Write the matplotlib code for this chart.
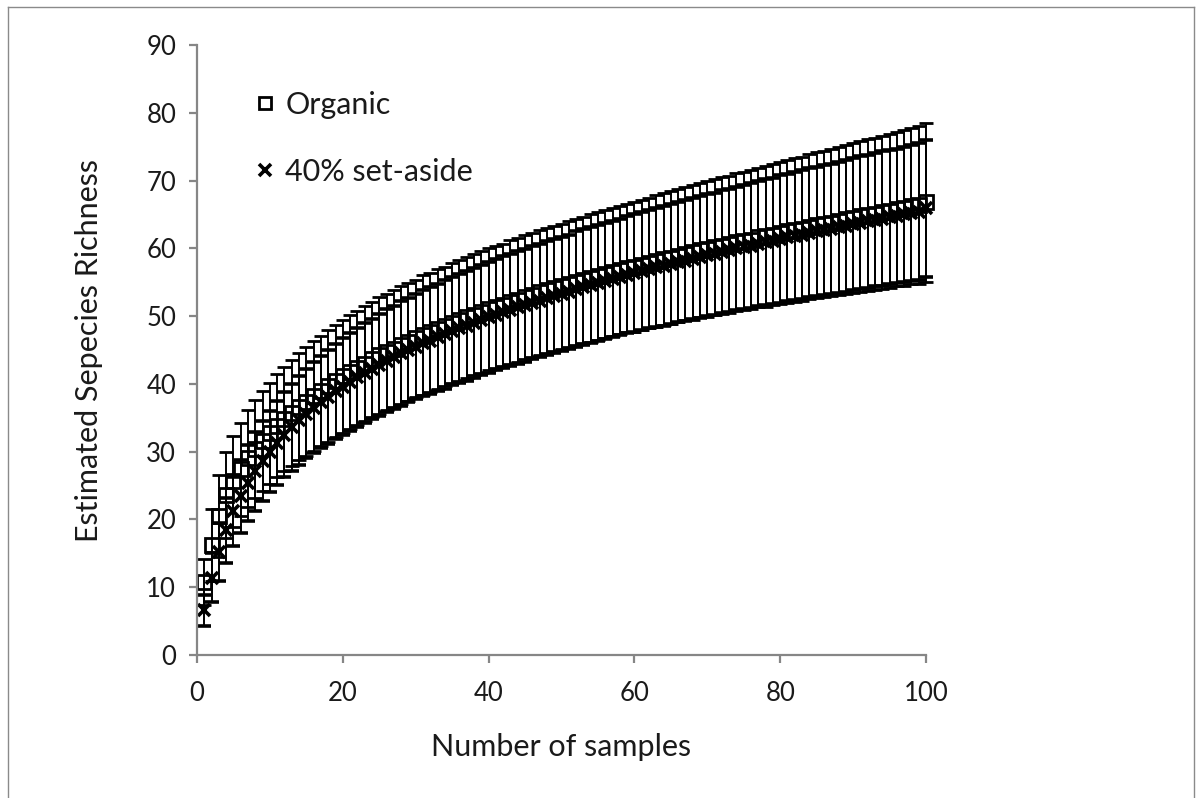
import matplotlib
matplotlib.use("Agg")
import matplotlib.pyplot as plt
from matplotlib.lines import Line2D
import numpy as np

samples = np.arange(1, 101)

organic = [
    10.8, 16.2, 20.5, 23.6, 25.6, 27.4, 29.0, 30.4, 31.6, 32.7,
    33.8, 34.8, 35.7, 36.6, 37.4, 38.2, 39.0, 39.7, 40.4, 41.1,
    41.8, 42.4, 43.0, 43.6, 44.2, 44.7, 45.2, 45.7, 46.2, 46.7,
    47.2, 47.6, 48.1, 48.5, 49.0, 49.4, 49.8, 50.2, 50.6, 51.0,
    51.4, 51.7, 52.1, 52.4, 52.8, 53.1, 53.5, 53.8, 54.1, 54.4,
    54.7, 55.0, 55.3, 55.6, 55.9, 56.2, 56.5, 56.8, 57.1, 57.3,
    57.6, 57.9, 58.1, 58.4, 58.6, 58.9, 59.2, 59.4, 59.7, 59.9,
    60.2, 60.4, 60.6, 60.9, 61.1, 61.3, 61.6, 61.8, 62.0, 62.3,
    62.5, 62.7, 62.9, 63.2, 63.4, 63.6, 63.8, 64.0, 64.3, 64.5,
    64.7, 64.9, 65.1, 65.3, 65.5, 65.8, 66.0, 66.2, 66.4, 66.8,
]
organic_err = [
    3.4, 5.3, 6.0, 6.4, 6.7, 6.9, 7.1, 7.2, 7.4, 7.5,
    7.6, 7.7, 7.8, 7.9, 8.0, 8.1, 8.1, 8.2, 8.3, 8.3,
    8.4, 8.4, 8.5, 8.5, 8.6, 8.6, 8.6, 8.7, 8.7, 8.7,
    8.8, 8.8, 8.8, 8.8, 8.9, 8.9, 8.9, 8.9, 9.0, 9.0,
    9.0, 9.0, 9.1, 9.1, 9.1, 9.1, 9.2, 9.2, 9.2, 9.2,
    9.3, 9.3, 9.3, 9.4, 9.4, 9.4, 9.5, 9.5, 9.5, 9.6,
    9.6, 9.6, 9.7, 9.7, 9.8, 9.8, 9.8, 9.9, 9.9, 10.0,
    10.0, 10.1, 10.1, 10.2, 10.2, 10.3, 10.3, 10.4, 10.4, 10.5,
    10.5, 10.6, 10.6, 10.7, 10.8, 10.8, 10.9, 10.9, 11.0, 11.1,
    11.1, 11.2, 11.2, 11.3, 11.4, 11.4, 11.5, 11.5, 11.6, 11.7,
]

setaside = [
    6.6, 11.4, 15.2, 18.4, 21.2, 23.4, 25.4, 27.1, 28.6, 30.0,
    31.3, 32.5, 33.6, 34.6, 35.6, 36.5, 37.3, 38.1, 38.9, 39.6,
    40.3, 41.0, 41.6, 42.2, 42.8, 43.4, 43.9, 44.5, 45.0, 45.5,
    46.0, 46.4, 46.9, 47.3, 47.8, 48.2, 48.6, 49.0, 49.4, 49.8,
    50.2, 50.6, 50.9, 51.3, 51.6, 52.0, 52.3, 52.7, 53.0, 53.3,
    53.6, 54.0, 54.3, 54.6, 54.9, 55.2, 55.5, 55.8, 56.1, 56.3,
    56.6, 56.9, 57.2, 57.4, 57.7, 58.0, 58.2, 58.5, 58.7, 59.0,
    59.2, 59.5, 59.7, 60.0, 60.2, 60.4, 60.7, 60.9, 61.1, 61.4,
    61.6, 61.8, 62.0, 62.3, 62.5, 62.7, 62.9, 63.1, 63.3, 63.6,
    63.8, 64.0, 64.2, 64.4, 64.6, 64.8, 65.0, 65.2, 65.4, 65.9,
]
setaside_err = [
    2.3, 3.6, 4.3, 4.8, 5.1, 5.4, 5.6, 5.8, 5.9, 6.0,
    6.2, 6.3, 6.4, 6.5, 6.6, 6.7, 6.8, 6.9, 7.0, 7.1,
    7.2, 7.3, 7.4, 7.4, 7.5, 7.6, 7.6, 7.7, 7.7, 7.8,
    7.8, 7.9, 7.9, 8.0, 8.0, 8.0, 8.1, 8.1, 8.1, 8.2,
    8.2, 8.2, 8.2, 8.3, 8.3, 8.3, 8.3, 8.4, 8.4, 8.4,
    8.4, 8.5, 8.5, 8.5, 8.5, 8.6, 8.6, 8.6, 8.6, 8.7,
    8.7, 8.7, 8.8, 8.8, 8.8, 8.9, 8.9, 8.9, 9.0, 9.0,
    9.0, 9.1, 9.1, 9.1, 9.2, 9.2, 9.2, 9.3, 9.3, 9.4,
    9.4, 9.4, 9.5, 9.5, 9.5, 9.6, 9.6, 9.7, 9.7, 9.7,
    9.8, 9.8, 9.8, 9.9, 9.9, 9.9, 10.0, 10.0, 10.1, 10.1,
]

x_ticks = [0, 20, 40, 60, 80, 100]
y_ticks = [0, 10, 20, 30, 40, 50, 60, 70, 80, 90]
labels = ["Organic", "40% set-aside"]

plt.rcParams['font.family'] = ['Lato', 'DejaVu Sans']
axis_grey = '#868686'
ink = '#1a1a1a'

fig = plt.figure(figsize=(12, 7.98), dpi=100)
ax = fig.add_axes([197 / 1200, 1 - 655 / 798, 729 / 1200, 610 / 798])

c1 = ax.errorbar(samples, organic, yerr=organic_err, fmt='s', mfc='none', mec='black',
                 mew=2.0, ms=9.5, ecolor='black', elinewidth=1.4, capsize=5, capthick=1.4)
c2 = ax.errorbar(samples, setaside, yerr=setaside_err, fmt='x', mec='black',
                 mew=2.6, ms=8, ecolor='black', elinewidth=1.4, capsize=5, capthick=1.4)
for c in (c1, c2):
    for a in c.get_children():
        a.set_clip_on(False)

ax.set_xlim(0, 100)
ax.set_ylim(0, 90)
ax.set_xticks(x_ticks)
ax.set_yticks(y_ticks)

for s in ['top', 'right']:
    ax.spines[s].set_visible(False)
for s in ['left', 'bottom']:
    ax.spines[s].set_color(axis_grey)
    ax.spines[s].set_linewidth(1.6)
ax.tick_params(direction='out', length=6, width=1.6, color=axis_grey,
               labelsize=18.5, labelcolor=ink)
ax.tick_params(axis='x', pad=13)
ax.tick_params(axis='y', pad=9)

ax.set_xlabel("Number of samples", fontsize=22, labelpad=19, color=ink)
ax.set_ylabel("Estimated Sepecies Richness", fontsize=22, labelpad=31, color=ink)

handles = [
    Line2D([], [], marker='s', ls='none', mfc='none', mec='black', mew=2.0, ms=9),
    Line2D([], [], marker='x', ls='none', mec='black', mew=2.6, ms=8),
]
ax.legend(handles, labels, loc='upper left', bbox_to_anchor=(0.035, 0.97), frameon=False,
          fontsize=22, labelspacing=1.28, handletextpad=0.15, handlelength=1.0,
          labelcolor=ink)

# grey frame round the whole picture
frame = dict(transform=fig.transFigure, color='#8a8a8a', lw=1.0)
fig.add_artist(Line2D([8 / 1200, 8 / 1200], [0, 1 - 7 / 798], **frame))
fig.add_artist(Line2D([8 / 1200, 1194 / 1200], [1 - 7 / 798, 1 - 7 / 798], **frame))
fig.add_artist(Line2D([1194 / 1200, 1194 / 1200], [0, 1 - 7 / 798], **frame))

fig.savefig("out.png", dpi=100)
